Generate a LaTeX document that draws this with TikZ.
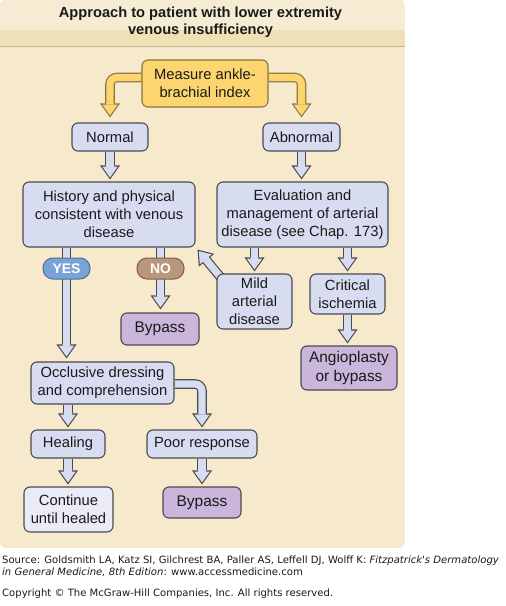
\documentclass[tikz,border=0pt]{standalone}
\usepackage{fontspec}
\setmainfont{Liberation Sans}
\newfontfamily\footfont{DejaVu Sans}
\usetikzlibrary{arrows.meta,backgrounds,calc}
\pgfdeclarelayer{arr}
\pgfsetlayers{background,arr,main}
\definecolor{panel}{HTML}{F6E9CC}
\definecolor{titletop}{HTML}{F6EBD3}
\definecolor{titleband}{HTML}{F0E0B6}
\definecolor{sepline}{HTML}{C4B692}
\definecolor{lav}{HTML}{D8DCF0}
\definecolor{lavlight}{HTML}{EAEBF6}
\definecolor{purp}{HTML}{CAB6DA}
\definecolor{yel}{HTML}{FDD56E}
\definecolor{yelborder}{HTML}{8C7440}
\definecolor{boxborder}{HTML}{4A4A50}
\definecolor{yesblue}{HTML}{78A3D6}
\definecolor{yesborder}{HTML}{4F6F99}
\definecolor{nobrown}{HTML}{B8977A}
\definecolor{noborder}{HTML}{7A604A}
\definecolor{txt}{HTML}{1A1A1A}
\tikzset{
  box/.style={draw=boxborder, line width=1.1bp, rounded corners=6bp, fill=lav,
    align=center, inner sep=0pt, text=txt, font=\fontsize{14.8}{18}\selectfont},
  pbox/.style={box, fill=purp, font=\fontsize{15.5}{19}\selectfont},
  ybox/.style={box, fill=yel, draw=yelborder},
  pill/.style={draw, line width=1bp, rounded corners=10bp, inner sep=0pt,
    minimum width=47bp, minimum height=21bp, text=white,
    font=\bfseries\fontsize{14}{16}\selectfont},
  foot/.style={anchor=base west, inner sep=0pt, text=txt, font=\footfont\fontsize{10.1}{12}\selectfont},
  fatoutB/.style={draw=boxborder, line width=9.6bp,
    -{Triangle[width=20bp,length=14bp,line width=0pt]}},
  fatinB/.style={draw=lav, line width=7.2bp, shorten >=2bp,
    -{Triangle[width=15.5bp,length=10.8bp,line width=0pt]}},
  fatoutY/.style={draw=yelborder, line width=9.6bp, rounded corners=7bp,
    -{Triangle[width=20bp,length=14bp,line width=0pt]}},
  fatinY/.style={draw=yel, line width=7.2bp, rounded corners=7bp, shorten >=2bp,
    -{Triangle[width=15.5bp,length=10.8bp,line width=0pt]}},
  fatoutC/.style={fatoutB, rounded corners=7bp},
  fatinC/.style={fatinB, rounded corners=7bp},
}
\newcommand{\fatpath}[2]{\draw[fatout#1] #2; \draw[fatin#1] #2;}
\begin{document}
\begin{tikzpicture}[x=1bp,y=-1bp]
\useasboundingbox (0,0) rectangle (506,606);
% nodes
\node[ybox, minimum width=126bp, minimum height=47bp] (mabi) at (205,83.5) {Measure ankle-\\brachial index};
\node[box, minimum width=76bp, minimum height=28bp] (normal) at (110,137) {Normal};
\node[box, minimum width=77bp, minimum height=28bp] (abnormal) at (301.5,137) {Abnormal};
\node[box, minimum width=172bp, minimum height=65bp] (hist) at (109,214.5) {History and physical\\consistent with venous\\disease};
\node[box, minimum width=171bp, minimum height=65bp] (evalu) at (302.5,214.5) {Evaluation and\\management of arterial\\disease (see Chap. 173)};
\node[pill, fill=yesblue, draw=yesborder] (yes) at (66.5,268.5) {YES};
\node[pill, fill=nobrown, draw=noborder] (no) at (160.5,268.5) {NO};
\node[pbox, minimum width=78bp, minimum height=32bp] (bypassA) at (160,329) {Bypass};
\node[box, minimum width=75bp, minimum height=55bp] (mild) at (254.5,301.5) {Mild\\arterial\\disease};
\node[box, minimum width=75bp, minimum height=40bp] (crit) at (347.5,294) {Critical\\ischemia};
\node[pbox, minimum width=96bp, minimum height=44bp] (angio) at (349,368) {Angioplasty\\or bypass};
\node[box, minimum width=143bp, minimum height=42bp] (occl) at (102.5,383) {Occlusive dressing\\and comprehension};
\node[box, minimum width=74bp, minimum height=28bp] (heal) at (68,444) {Healing};
\node[box, minimum width=110bp, minimum height=28bp] (poor) at (202,444) {Poor response};
\node[box, fill=lavlight, minimum width=89bp, minimum height=45bp] (cont) at (68.5,509.5) {Continue\\until healed};
\node[pbox, minimum width=78bp, minimum height=31bp] (bypassB) at (202,502.5) {Bypass};
% title
\node[align=center, text=txt, font=\bfseries\fontsize{14.7}{17}\selectfont] (title) at (200.5,22) {Approach to patient with lower extremity\\venous insufficiency};
% footer
\node[foot] (src1) at (2,563) {Source: Goldsmith LA, Katz SI, Gilchrest BA, Paller AS, Leffell DJ, Wolff K: \textit{Fitzpatrick's Dermatology}};
\node[foot] (src2) at (2,575.5) {\textit{in General Medicine, 8th Edition}: www.accessmedicine.com};
\node[foot] (copy) at (2,596) {Copyright © The McGraw-Hill Companies, Inc. All rights reserved.};
% background
\begin{pgfonlayer}{background}
\fill[white] (0,0) rectangle (506,606);
\begin{scope}
\clip[rounded corners=6bp] (0,0) rectangle (405,548);
\fill[panel] (0,0) rectangle (405,548);
\fill[titletop] (0,0) rectangle (405,30);
\fill[titleband] (0,30) rectangle (405,46);
\fill[sepline] (0,46) rectangle (405,47.5);
\end{scope}
\end{pgfonlayer}
% arrows
\begin{pgfonlayer}{arr}
\fatpath{Y}{([yshift=6bp]mabi.west) -| ([yshift=5bp]normal.north)}
\fatpath{Y}{([yshift=6bp]mabi.east) -| ([yshift=5bp]abnormal.north)}
\fatpath{B}{(normal.south) -- ([yshift=2bp]normal.south |- hist.north)}
\fatpath{B}{(abnormal.south) -- ([yshift=2bp]abnormal.south |- evalu.north)}
\fatpath{B}{(yes.center |- hist.south) -- ([yshift=3bp]yes.center |- occl.north)}
\fatpath{B}{(no.center |- hist.south) -- ([yshift=3bp]no.center |- bypassA.north)}
\fatpath{B}{(mild.north |- evalu.south) -- ([yshift=2bp]mild.north)}
\fatpath{B}{(crit.north |- evalu.south) -- ([yshift=2bp]crit.north)}
\fatpath{B}{(crit.south) -- ([yshift=2bp]crit.south |- angio.north)}
\fatpath{B}{([xshift=6bp,yshift=-6bp]mild.north west) -- ([xshift=2bp,yshift=-2bp]hist.south east)}
\fatpath{B}{(heal.north |- occl.south) -- ([yshift=2bp]heal.north)}
\fatpath{C}{([yshift=-1bp]occl.east) -| ([yshift=2bp]poor.north)}
\fatpath{B}{(heal.south) -- ([yshift=2bp]heal.south |- cont.north)}
\fatpath{B}{(poor.south) -- ([yshift=2bp]bypassB.north)}
\end{pgfonlayer}
\end{tikzpicture}
\end{document}
